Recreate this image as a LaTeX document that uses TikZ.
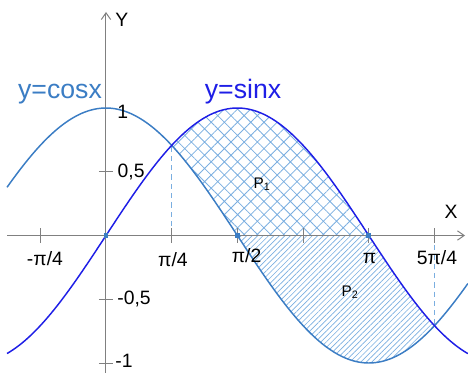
\documentclass[tikz,border=0pt]{standalone}
\usepackage{fontspec}
\setmainfont{Liberation Sans}
\usetikzlibrary{arrows.meta,patterns.meta}
\definecolor{CosBlue}{HTML}{3B7DC4}
\definecolor{SinBlue}{HTML}{1E1EE6}
\definecolor{HatchBlue}{HTML}{7AAEE0}
\definecolor{AxisGray}{HTML}{808080}
\tikzset{
  axisline/.style={draw=AxisGray,line width=0.75pt},
  axisarrow/.style={axisline,-{Straight Barb[length=5pt,width=7pt]}},
  cosline/.style={draw=CosBlue,line width=1.1pt},
  sinline/.style={draw=SinBlue,line width=1.1pt},
  guide/.style={draw=HatchBlue,line width=0.75pt,dash pattern=on 4pt off 3pt},
  crossfill/.style={pattern={Hatch[angle=45,distance=7pt,line width=0.6pt]},pattern color=HatchBlue},
  linefill/.style={pattern={Lines[angle=45,distance=2.9pt,line width=0.5pt]},pattern color=HatchBlue},
  ticklabel/.style={font=\fontsize{14.5}{16}\selectfont,inner sep=0pt},
  curvelabel/.style={font=\fontsize{20}{24}\selectfont,inner sep=0pt,anchor=base},
  arealabel/.style={font=\fontsize{11.5}{13}\selectfont,inner sep=0pt},
  axisdot/.style={rectangle,fill=CosBlue,minimum size=3.5pt,inner sep=0pt},
}

\begin{document}
\begin{tikzpicture}[x=62.74pt,y=95.63pt]
  \useasboundingbox (-1.2672,-1.0784) rectangle (4.3276,1.8471);

  % shaded areas
  \fill[crossfill] plot[domain=pi/4:pi,samples=60] (\x,{sin(\x r)})
    -- plot[domain=0:pi/4,samples=30] ({pi/2-\x},{cos((pi/2-\x) r)}) -- cycle;
  \fill[linefill] ({pi/2},0) -- ({pi},0)
    -- plot[domain=pi:5*pi/4,samples=30] (\x,{sin(\x r)})
    -- plot[domain=0:3*pi/4,samples=60] ({5*pi/4-\x},{cos((5*pi/4-\x) r)}) -- cycle;

  % guides
  \coordinate (q1) at ({pi/4},0);
  \coordinate (m1) at ({pi/4},{sin(45)});
  \coordinate (q5) at ({5*pi/4},0);
  \coordinate (m5) at ({5*pi/4},{-sin(45)});
  \draw[guide] (q1) -- (m1);
  \draw[guide] (q5) -- (m5);

  % axes
  \coordinate (xstart) at (-1.183,0);
  \coordinate (xend) at (4.292,0);
  \coordinate (ystart) at (0,-1.078);
  \coordinate (yend) at (0,1.753);
  \draw[axisarrow] (xstart) -- (xend);
  \draw[axisarrow] (ystart) -- (yend);
  \foreach \t in {-pi/4,pi/4,pi/2,3*pi/4,pi,5*pi/4}
    \draw[axisline] ({\t},0.055) -- ({\t},-0.055);
  \foreach \t in {-1,-0.5,0.5,1}
    \draw[axisline] (-0.084,\t) -- (0.084,\t);

  % curves
  \draw[cosline] plot[domain=-1.183:4.327,samples=150] (\x,{cos(\x r)});
  \draw[sinline] plot[domain=-1.183:4.327,samples=150] (\x,{sin(\x r)});

  \node[axisdot] (z0) at (0,0) {};
  \node[axisdot] (z1) at ({pi/2},0) {};
  \node[axisdot] (z2) at ({pi},0) {};

  % labels
  \node[ticklabel] (lmq) at (-0.73,-0.184) {-π/4};
  \node[ticklabel] (lq) at (0.80,-0.19) {π/4};
  \node[ticklabel] (lh) at (1.68,-0.16) {π/2};
  \node[ticklabel] (lp) at (3.15,-0.177) {π};
  \node[ticklabel] (lfq) at (3.957,-0.177) {5π/4};
  \node[ticklabel] (lone) at (0.2,0.97) {1};
  \node[ticklabel] (lhalf) at (0.30,0.498) {0,5};
  \node[ticklabel] (lmhalf) at (0.335,-0.498) {-0,5};
  \node[ticklabel] (lmone) at (0.215,-0.984) {-1};
  \node[ticklabel] (xname) at (4.124,0.184) {X};
  \node[ticklabel] (yname) at (0.19,1.69) {Y};
  \node[curvelabel,text=CosBlue] (cosname) at (-0.55,1.071) {y=cosx};
  \node[curvelabel,text=SinBlue] (sinname) at (1.638,1.071) {y=sinx};
  \node[arealabel] (pone) at (1.865,0.404) {P\textsubscript{1}};
  \node[arealabel] (ptwo) at (2.917,-0.443) {P\textsubscript{2}};
\end{tikzpicture}
\end{document}
